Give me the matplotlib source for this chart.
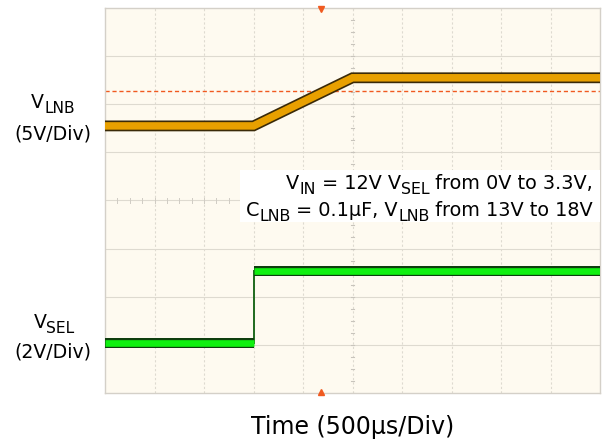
import matplotlib
matplotlib.use("Agg")
import matplotlib.pyplot as plt
import numpy as np
from matplotlib.transforms import IdentityTransform

# ---- data ----
t_lnb_us = [0, 1500, 2500, 5000]          # time (µs)
v_lnb = [13, 13, 18, 18]                  # V_LNB (V)
t_sel_us = [0, 1500, 1500, 5000]          # time (µs)
v_sel = [0, 0, 3.0, 3.0]                  # V_SEL (V)
trigger_level_v = 16.65                   # dashed trigger level on V_LNB
trigger_time_us = 2180                    # trigger position marker

us_per_div = 500
lnb_v_per_div = 5
sel_v_per_div = 2
lnb_offset_div = 2.95
sel_offset_div = 1.04

W, H = 603, 444
fig = plt.figure(figsize=(W / 100, H / 100), dpi=100)
fig.patch.set_facecolor("white")
ax = fig.add_axes([105 / W, (H - 393) / H, 495 / W, 385 / H])
ax.set_facecolor("#fefaf0")
ax.set_xlim(0, 10)
ax.set_ylim(0, 8)
ax.set_xticks([])
ax.set_yticks([])
for s in ax.spines.values():
    s.set_color("#d4d0c8")
    s.set_linewidth(1.0)

gc = "#dedad0"
for i in range(1, 10):
    ax.axvline(i, color=gc, lw=0.8, ls=(0, (2, 2)), zorder=1)
for j in range(1, 8):
    ax.axhline(j, color=gc, lw=0.8, zorder=1)
# minor ticks on centre lines
for k in np.arange(0, 8.01, 0.25):
    ax.plot([4.96, 5.04], [k, k], color="#c8c4bc", lw=0.8, zorder=1)
for k in np.arange(0, 10.01, 0.25):
    ax.plot([k, k], [3.95, 4.05], color="#d0ccc4", lw=0.7, zorder=1)

xl = np.array(t_lnb_us) / us_per_div
yl = np.array(v_lnb) / lnb_v_per_div + lnb_offset_div
ax.plot(xl, yl, color="#3a2a08", lw=7.8, solid_joinstyle="miter", solid_capstyle="butt", zorder=3)
ax.plot(xl, yl, color="#e8a000", lw=5.4, solid_joinstyle="miter", solid_capstyle="butt", zorder=4)

xs = np.array(t_sel_us) / us_per_div
ys = np.array(v_sel) / sel_v_per_div + sel_offset_div
ax.plot(xs[1:3], ys[1:3], color="#1f6a1f", lw=1.4, zorder=3)
for a, b in [(0, 1), (2, 3)]:
    ax.plot(xs[a:b + 1], ys[a:b + 1], color="#0e3e0e", lw=7.2, solid_capstyle="butt", zorder=3)
    ax.plot(xs[a:b + 1], ys[a:b + 1], color="#10f010", lw=4.8, solid_capstyle="butt", zorder=4)

ax.axhline(trigger_level_v / lnb_v_per_div + lnb_offset_div, color="#f05a20", lw=1.0,
           ls=(0, (3, 2)), zorder=2)
tx = trigger_time_us / us_per_div
ax.plot([tx], [7.97], marker="v", color="#f05a20", ms=5, clip_on=False, zorder=6)
ax.plot([tx], [0.03], marker="^", color="#f05a20", ms=5, clip_on=False, zorder=6)

# ---- rich text helper (pixel coordinates, y from top) ----
fig.canvas.draw()
renderer = fig.canvas.get_renderer()
FAM = "DejaVu Sans"


def measure(s, size):
    t1 = fig.text(0, 0, "|" + s + "|", fontsize=size, family=FAM)
    t2 = fig.text(0, 0, "||", fontsize=size, family=FAM)
    w = t1.get_window_extent(renderer).width - t2.get_window_extent(renderer).width
    t1.remove(); t2.remove()
    return w


def rich(x, y, pieces, size, ha="left", sub_scale=0.82, sub_drop=0.26, zorder=10):
    sizes = [size * sub_scale if sub else size for _, sub in pieces]
    widths = [measure(s, sz) for (s, _), sz in zip(pieces, sizes)]
    total = sum(widths)
    if ha == "center":
        x0 = x - total / 2
    elif ha == "right":
        x0 = x - total
    else:
        x0 = x
    cx = x0
    for (s, sub), sz, w in zip(pieces, sizes, widths):
        yy = y + (size * 100 / 72 * sub_drop if sub else 0)
        fig.text(cx, H - yy, s, fontsize=sz, family=FAM, transform=IdentityTransform(),
                 va="baseline", ha="left", zorder=zorder)
        cx += w
    return x0, total


# annotation box
box = plt.Rectangle((240 / W, (H - 222) / H), 360 / W, 52 / H, transform=fig.transFigure,
                    facecolor="white", edgecolor="none", zorder=9)
fig.add_artist(box)
rich(593, 189, [("V", False), ("IN", True), (" = 12V V", False), ("SEL", True),
                (" from 0V to 3.3V,", False)], 13.9, ha="right")
rich(593, 216, [("C", False), ("LNB", True), (" = 0.1µF, V", False), ("LNB", True),
                (" from 13V to 18V", False)], 13.9, ha="right")

rich(53, 108, [("V", False), ("LNB", True)], 13.6, ha="center")
rich(53, 139, [("(5V/Div)", False)], 13.6, ha="center")
rich(54, 328, [("V", False), ("SEL", True)], 13.6, ha="center")
rich(53, 357, [("(2V/Div)", False)], 13.6, ha="center")
rich(353, 434, [("Time (500µs/Div)", False)], 17, ha="center")

fig.savefig("out.png", dpi=100, facecolor="white")
